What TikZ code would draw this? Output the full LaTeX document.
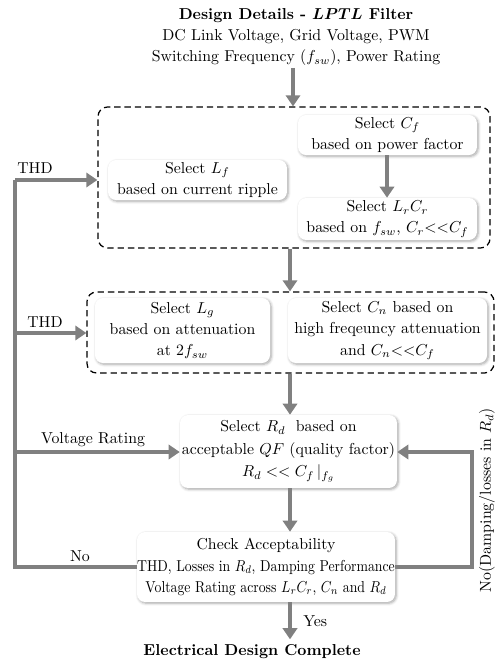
\documentclass[tikz,border=0pt]{standalone}
\usetikzlibrary{arrows.meta,fit,shadows.blur,calc}
\begin{document}
\begin{tikzpicture}[x=0.632pt,y=-0.632pt,
  font=\fontsize{10}{13.5}\selectfont,
  box/.style={draw=none, fill=white, rounded corners=5pt, inner sep=0pt, align=center,
    blur shadow={shadow xshift=0.8pt, shadow yshift=-0.8pt, shadow blur steps=6, shadow opacity=35}},
  grp/.style={draw, dash pattern=on 4pt off 2.5pt, line width=0.8pt, rounded corners=6pt, inner sep=0pt},
  flow/.style={draw=black!50, line width=2.8pt, -{Triangle[width=9pt,length=7pt]}},
  fline/.style={draw=black!50, line width=2.8pt},
  lbl/.style={inner sep=1pt}]
\useasboundingbox (0,0) rectangle (496,662);

% header
\node[align=center] (hdr) at (296,37) {\textbf{Design Details - \boldmath$LPTL$ Filter}\\DC Link Voltage, Grid Voltage, PWM\\Switching Frequency ($f_{sw}$), Power Rating};

% group 1
\node[grp, fit={(98,107) (490,248)}] (grp1) {};
\node[box, minimum width=113pt, minimum height=25.3pt] (cf) at (387.5,135) {Select $C_f$\\based on power factor};
\node[box, minimum width=113pt, minimum height=25.3pt] (lf) at (197.5,180) {Select $L_f$\\based on current ripple};
\node[box, minimum width=113pt, minimum height=26.5pt] (lrcr) at (387.5,219) {Select $L_rC_r$\\based on $f_{sw}$, $C_r{<<}C_f$};

% group 2
\node[grp, fit={(87,292) (494,373)}] (grp2) {};
\node[box, minimum width=110.6pt, minimum height=41.1pt] (lg) at (182.5,330.5) {Select $L_g$\\based on attenuation\\at $2f_{sw}$};
\node[box, minimum width=125.8pt, minimum height=41.1pt] (cn) at (387.5,330.5) {Select $C_n$ based on\\high freqeuncy attenuation\\and $C_n{<<}C_f$};

% Rd and check
\node[box, minimum width=137.1pt, minimum height=46.1pt, font=\fontsize{10}{14.2}\selectfont] (rd) at (288.5,451.5) {Select $R_d$\ \ based on\\acceptable $QF$ (quality factor)\\$R_d << C_f\,|_{f_g}$};
\node[box, minimum width=163pt, minimum height=44.2pt] (check) at (266,567) {Check Acceptability\\\scalebox{0.87}[1]{THD, Losses in $R_d$, Damping Performance}\\\scalebox{0.87}[1]{Voltage Rating across $L_rC_r$, $C_n$ and $R_d$}};

\node (done) at (252,652) {\textbf{Electrical Design Complete}};

% coordinates
\coordinate (hx) at (293,68);
\coordinate (ax) at (290,0);
\coordinate (cx) at (387,0);
\coordinate (L1) at (15,180);
\coordinate (L2) at (15,333);
\coordinate (L3) at (15,452);
\coordinate (L4) at (15,567);
\coordinate (R1) at (472,567);

% main flow
\draw[flow] (hx) -- (hx |- grp1.north);
\draw[flow] (cf.south -| cx) -- (lrcr.north -| cx);
\draw[flow] (grp1.south -| ax) -- (grp2.north -| ax);
\draw[flow] (grp2.south -| ax) -- (rd.north -| ax);
\draw[flow] (rd.south -| ax) -- (check.north -| ax);
\draw[flow] (check.south -| ax) -- (ax |- done.north) node[midway, right=6pt, lbl] (yes) {Yes};

% left feedback
\draw[fline] (check.west |- L4) -- (L4) -- (L1);
\node[lbl] (nolbl) at (80,556) {No};
\draw[flow] (L1) -- (L1 -| grp1.west);
\node[lbl] (thd1) at (35,168) {THD};
\draw[flow] (L2) -- (L2 -| grp2.west);
\node[lbl] (thd2) at (45,322) {THD};
\draw[flow] (L3) -- (L3 -| rd.west);
\node[lbl] (vr) at (93,440) {Voltage Rating};

% right feedback
\draw[flow] (check.east |- R1) -- (R1) -- (R1 |- L3) -- (L3 -| rd.east);
\node[lbl, rotate=90] (nodamp) at (487,500) {No(Damping/losses in $R_d$)};
\end{tikzpicture}
\end{document}
